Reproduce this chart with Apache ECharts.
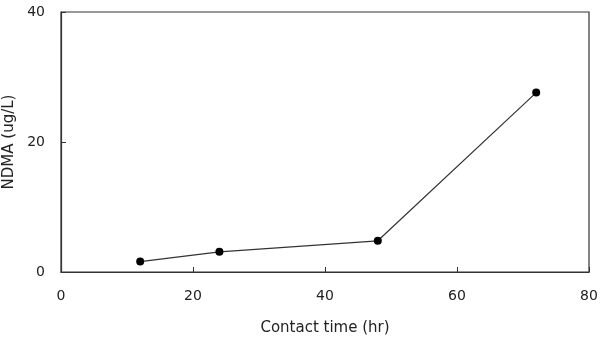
<!DOCTYPE html>
<html>
<head>
<meta charset="utf-8">
<script src="https://cdn.jsdelivr.net/npm/echarts@6/dist/echarts.min.js"></script>
<style>
  html, body { margin: 0; padding: 0; background: #fff; }
  #chart { width: 600px; height: 342px; }
</style>
</head>
<body>
<div id="chart"></div>
<script>
// Contact time (hr) and measured NDMA concentration (ug/L)
const contactTime = [12, 24, 48, 72];
const ndma = [1.6, 3.1, 4.8, 27.6];

const xTicks = { min: 0, max: 80, interval: 20 };
const yTicks = { min: 0, max: 40, interval: 20 };

const fontFamily = '"DejaVu Sans", sans-serif';
const textColor = '#222';

const chart = echarts.init(document.getElementById('chart'), null, { renderer: 'canvas' });

chart.setOption({
  animation: false,
  backgroundColor: '#fff',
  grid: {
    left: 61, right: 11, top: 12, bottom: 70,
    containLabel: false,
    outerBoundsMode: 'none',
    show: true, borderColor: '#333', borderWidth: 1.2, backgroundColor: 'transparent'
  },
  xAxis: {
    type: 'value',
    min: xTicks.min, max: xTicks.max, interval: xTicks.interval,
    name: 'Contact time (hr)',
    nameLocation: 'middle',
    nameGap: 49,
    nameTextStyle: { fontFamily, fontSize: 15, color: textColor },
    axisLine: { show: true, onZero: false, lineStyle: { color: '#333', width: 1.2 } },
    axisTick: { show: true, inside: true, length: 5, lineStyle: { color: '#333' } },
    axisLabel: { fontFamily, fontSize: 14, color: textColor, margin: 17 },
    splitLine: { show: false }
  },
  yAxis: {
    type: 'value',
    min: yTicks.min, max: yTicks.max, interval: yTicks.interval,
    name: 'NDMA (ug/L)',
    nameLocation: 'middle',
    nameGap: 36,
    nameRotate: 90,
    nameTextStyle: { fontFamily, fontSize: 15, color: textColor },
    axisLine: { show: true, lineStyle: { color: '#333', width: 1.2 } },
    axisTick: { show: true, inside: true, length: 5, lineStyle: { color: '#333' } },
    axisLabel: { fontFamily, fontSize: 14, color: textColor, margin: 16 },
    splitLine: { show: false }
  },
  series: [{
    type: 'line',
    data: contactTime.map((t, i) => [t, ndma[i]]),
    symbol: 'circle',
    symbolSize: 8,
    itemStyle: { color: '#000' },
    lineStyle: { color: '#333', width: 1.2 }
  }]
});
</script>
</body>
</html>
